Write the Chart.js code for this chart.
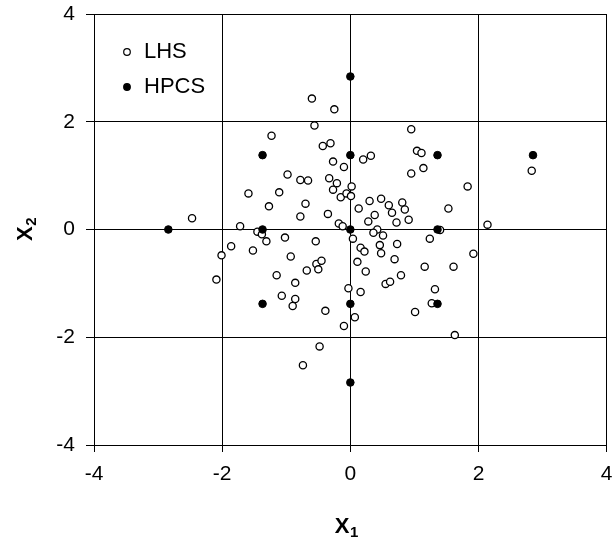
<!DOCTYPE html>
<html><head><meta charset="utf-8">
<script src="https://cdn.jsdelivr.net/npm/chart.js@4/dist/chart.umd.min.js"></script>
<style>html,body{margin:0;padding:0;background:#fff}#wrap{width:612px;height:541px}</style>
</head><body><div id="wrap"><canvas id="c" width="612" height="541"></canvas></div>
<script>
// LHS sample (open circles)
const lhsX = [-0.60,-0.25,-0.56,-1.23,-0.43,-0.31,-0.27,-0.10,-0.98,-0.78,-0.66,-0.33,-0.21,-0.27,-0.15,-0.06,-1.59,-1.11,-1.27,-0.70,-0.78,-0.35,-0.18,-0.12,-2.47,-1.72,
  0.95,1.04,1.11,0.20,0.32,0.95,1.14,2.83,1.83,0.02,0.01,0.48,0.30,0.81,0.60,0.85,0.65,0.13,0.38,1.53,0.28,0.72,0.91,2.14,0.42,
  -1.45,-1.38,-1.31,-1.02,-0.54,-1.86,-1.52,-2.01,-0.93,-0.53,-0.45,-0.50,-0.68,-1.15,-0.86,-2.09,-1.07,-0.86,-0.90,-0.39,-0.10,-0.03,-0.48,-0.74,
  1.40,0.36,0.51,0.04,1.24,0.16,0.22,0.46,0.48,0.73,1.92,0.11,0.69,0.24,1.16,1.61,0.79,0.55,0.62,0.16,1.32,1.27,1.01,0.07,1.63];
const lhsY = [2.43,2.23,1.93,1.74,1.55,1.60,1.26,1.16,1.02,0.92,0.91,0.95,0.86,0.74,0.60,0.67,0.67,0.69,0.43,0.48,0.24,0.29,0.11,0.06,0.21,0.06,
  1.86,1.46,1.42,1.30,1.37,1.04,1.14,1.09,0.80,0.80,0.62,0.57,0.53,0.50,0.45,0.37,0.31,0.39,0.27,0.39,0.15,0.13,0.18,0.09,0.00,
  -0.04,-0.09,-0.22,-0.15,-0.22,-0.31,-0.39,-0.48,-0.50,-0.64,-0.58,-0.74,-0.76,-0.85,-0.99,-0.93,-1.23,-1.29,-1.42,-1.51,-1.79,-1.09,-2.17,-2.52,
  -0.01,-0.06,-0.11,-0.17,-0.17,-0.34,-0.41,-0.29,-0.44,-0.27,-0.45,-0.60,-0.55,-0.78,-0.69,-0.69,-0.85,-1.01,-0.97,-1.16,-1.11,-1.37,-1.53,-1.63,-1.96];
// HPCS points (filled circles)
const hpcsX = [0,-1.37,0,1.36,2.85,-2.84,-1.37,0,1.36,-1.37,0,1.36,0];
const hpcsY = [2.84,1.38,1.38,1.38,1.38,0,0,0,0,-1.38,-1.38,-1.38,-2.84];
const axisTicks = [-4,-2,0,2,4];
const legendLabels = ['LHS','HPCS'];
const xTitle = ['X','1'];
const yTitle = ['X','2'];

const FONT = "'Liberation Sans', Arial, 'DejaVu Sans', sans-serif";
const toPts = (xs, ys) => xs.map((x, i) => ({x: x, y: ys[i]}));

const legendPlugin = {
  id: 'insideLegend',
  afterDatasetsDraw(chart) {
    const ctx = chart.ctx;
    const items = [
      {label: legendLabels[0], fill: '#fff', y: 52},
      {label: legendLabels[1], fill: '#000', y: 87}
    ];
    ctx.save();
    ctx.font = '22px ' + FONT;
    ctx.textBaseline = 'middle';
    ctx.textAlign = 'left';
    items.forEach(it => {
      ctx.beginPath();
      ctx.arc(127, it.y, 3.3, 0, Math.PI * 2);
      ctx.fillStyle = it.fill; ctx.fill();
      ctx.lineWidth = 1.2; ctx.strokeStyle = '#000'; ctx.stroke();
      ctx.fillStyle = '#000';
      ctx.fillText(it.label, 144, it.y);
    });
    ctx.restore();
  }
};
function drawSubTitle(ctx, parts, cx, baseline) {
  ctx.font = 'bold 22px ' + FONT;
  const w1 = ctx.measureText(parts[0]).width;
  ctx.font = 'bold 15px ' + FONT;
  const w2 = ctx.measureText(parts[1]).width;
  const start = cx - (w1 + w2) / 2;
  ctx.textAlign = 'left';
  ctx.textBaseline = 'alphabetic';
  ctx.font = 'bold 22px ' + FONT;
  ctx.fillText(parts[0], start, baseline);
  ctx.font = 'bold 15px ' + FONT;
  ctx.fillText(parts[1], start + w1 + 0.5, baseline + 4);
}
const titlePlugin = {
  id: 'subTitles',
  afterDraw(chart) {
    const ctx = chart.ctx;
    ctx.save();
    ctx.fillStyle = '#000';
    const xs = chart.scales.x;
    drawSubTitle(ctx, xTitle, (xs.left + xs.right) / 2 - 4, 533);
    ctx.restore();
    ctx.save();
    ctx.fillStyle = '#000';
    const ys = chart.scales.y;
    ctx.translate(32, (ys.top + ys.bottom) / 2);
    ctx.rotate(-Math.PI / 2);
    drawSubTitle(ctx, yTitle, 0, 0);
    ctx.restore();
  }
};
const bgPlugin = {
  id: 'bg',
  beforeDraw(chart) { const c = chart.ctx; c.save(); c.fillStyle = '#fff'; c.fillRect(0, 0, chart.width, chart.height); c.restore(); }
};

new Chart(document.getElementById('c'), {
  type: 'scatter',
  data: {
    datasets: [
      {label: legendLabels[0], data: toPts(lhsX, lhsY), pointRadius: 3.6, pointBackgroundColor: '#fff', pointBorderColor: '#000', pointBorderWidth: 1.3, order: 1},
      {label: legendLabels[1], data: toPts(hpcsX, hpcsY), pointRadius: 3.8, pointBackgroundColor: '#000', pointBorderColor: '#000', pointBorderWidth: 1, order: 0}
    ]
  },
  options: {
    responsive: false,
    animation: false,
    layout: {padding: {top: 14, right: 5, left: 0, bottom: 0}},
    plugins: {legend: {display: false}, tooltip: {enabled: false}},
    scales: {
      x: {
        type: 'linear', min: -4, max: 4,
        afterBuildTicks: s => { s.ticks = axisTicks.map(v => ({value: v})); },
        afterFit: s => { s.paddingLeft = 0; s.paddingRight = 0; s.height = 96; },
        grid: {color: '#000', lineWidth: 1, tickLength: 7, tickColor: '#000'},
        border: {color: '#000', width: 1},
        ticks: {color: '#000', font: {size: 21, family: FONT}, padding: 10, maxRotation: 0},
        title: {display: false}
      },
      y: {
        type: 'linear', min: -4, max: 4,
        afterBuildTicks: s => { s.ticks = axisTicks.map(v => ({value: v})); },
        afterFit: s => { s.paddingTop = 0; s.paddingBottom = 0; s.width = 94; },
        grid: {color: '#000', lineWidth: 1, tickLength: 8, tickColor: '#000'},
        border: {color: '#000', width: 1},
        ticks: {color: '#000', font: {size: 21, family: FONT}, padding: 11},
        title: {display: false}
      }
    }
  },
  plugins: [bgPlugin, legendPlugin, titlePlugin]
});
</script>
</body></html>
